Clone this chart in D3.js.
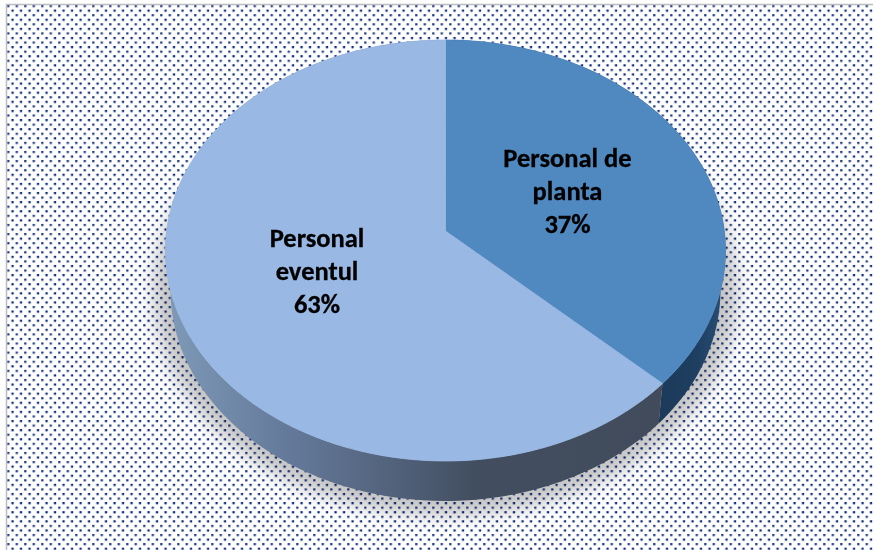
<!DOCTYPE html>
<html><head><meta charset="utf-8">
<script src="https://cdn.jsdelivr.net/npm/d3@7"></script>
<style>html,body{margin:0;padding:0;background:#fff}svg{display:block}text{font-family:Carlito,Lato,sans-serif;font-weight:700;fill:#000;stroke:#000;stroke-width:.3px}</style>
</head><body><div id="c"></div>
<script>
const categories = ["Personal de planta", "Personal eventul"];
const values = [37, 63];
const labelLines = [["Personal de", "planta", "37%"], ["Personal", "eventul", "63%"]];
const topColors = ["#5088c0", "#99b9e4"];

const W = 873, H = 550;
const svg = d3.select("#c").append("svg").attr("width", W).attr("height", H);
const defs = svg.append("defs");

// dotted chart-area fill
const pat = defs.append("pattern").attr("id", "dots").attr("patternUnits", "userSpaceOnUse")
  .attr("width", 8.5).attr("height", 9.12).attr("x", 7).attr("y", 5);
pat.append("rect").attr("x", 0.2).attr("y", 0).attr("width", 2.2).attr("height", 2.2).attr("fill", "#1a3680");
pat.append("rect").attr("x", 4.4).attr("y", 4.56).attr("width", 2.3).attr("height", 2.2).attr("fill", "#0c2a78");

svg.append("rect").attr("width", W).attr("height", H).attr("fill", "#fff");
svg.append("rect").attr("x", 7).attr("y", 5).attr("width", W - 7).attr("height", H - 5).attr("fill", "url(#dots)");
svg.append("path").attr("d", `M6.5 ${H}V4.5H${W}`).attr("fill", "none").attr("stroke", "#bdbdbd").attr("stroke-width", 1.5);

// perspective projection of the unit disc (tilted pie)
const px = d3.scaleLinear().domain([-1, 1]).range([166.7, 724.3]);
const yA = 187.3, yB = 231, persp = -0.0926, depth = 40, shrink = 0.982;
function proj(u, v) {
  const w = 1 + persp * v;
  return [px(u / w), (yA * v + yB) / w];
}
const rim = a => proj(Math.sin(a), -Math.cos(a));
const rimLow = a => { const p = rim(a), cx = px(0); return [cx + (p[0] - cx) * shrink, p[1] + depth]; };
const samples = (a0, a1) => d3.range(0, 121).map(i => a0 + (a1 - a0) * i / 120);
const line = d3.line();

const pie = d3.pie().sort(null)(values);

// soft shadow under the pie
const blur = defs.append("filter").attr("id", "soft").attr("x", "-20%").attr("y", "-20%").attr("width", "140%").attr("height", "140%");
blur.append("feGaussianBlur").attr("stdDeviation", 9);
const shadowPts = samples(0, 2 * Math.PI).map(a => {
  const p = rimLow(a), c = [px(0), 280];
  return [c[0] + (p[0] - c[0]) * 1.06, c[1] + (p[1] - c[1]) * 1.065];
});
svg.append("path").attr("d", line(shadowPts) + "Z").attr("fill", "#b0b0b0").attr("opacity", .75)
  .attr("filter", "url(#soft)").style("mix-blend-mode", "multiply");

// side wall gradients
function grad(id, x1, x2, stops) {
  const g = defs.append("linearGradient").attr("id", id).attr("gradientUnits", "userSpaceOnUse")
    .attr("x1", x1).attr("x2", x2).attr("y1", 0).attr("y2", 0);
  stops.forEach(s => g.append("stop").attr("offset", s[0]).attr("stop-color", s[1]));
}
grad("side0", 655, 726, [[0, "#1c3a59"], [.6, "#1e3f61"], [1, "#2a5078"]]);
grad("side1", 165, 665, [[0, "#7f9ab8"], [.25, "#64799a"], [.5, "#4e5d74"], [.62, "#424e60"], [1, "#414b5b"]]);

svg.append("g").selectAll("path").data(pie).join("path")
  .attr("d", d => line(samples(d.startAngle, d.endAngle).map(rim).concat(samples(d.startAngle, d.endAngle).reverse().map(rimLow))) + "Z")
  .attr("fill", (d, i) => `url(#side${i})`);

// top faces, each stroked in its own colour so no background shows through the seams
svg.append("g").selectAll("path").data(pie).join("path")
  .attr("d", d => line([proj(0, 0)].concat(samples(d.startAngle, d.endAngle).map(rim))) + "Z")
  .attr("fill", (d, i) => topColors[i])
  .attr("stroke", (d, i) => topColors[i]).attr("stroke-width", .8).attr("stroke-linejoin", "round");

// labels
const labelAnchor = [[567.5, 167], [317, 247]];
const labelStep = 33;
const lab = svg.append("g").selectAll("text").data(labelLines).join("text")
  .attr("text-anchor", "middle").attr("font-size", 26.5);
lab.selectAll("tspan").data((d, i) => d.map((t, j) => ({ t, i, j }))).join("tspan")
  .attr("x", d => labelAnchor[d.i][0])
  .attr("y", d => labelAnchor[d.i][1] + d.j * labelStep)
  .text(d => d.t);
</script></body></html>
